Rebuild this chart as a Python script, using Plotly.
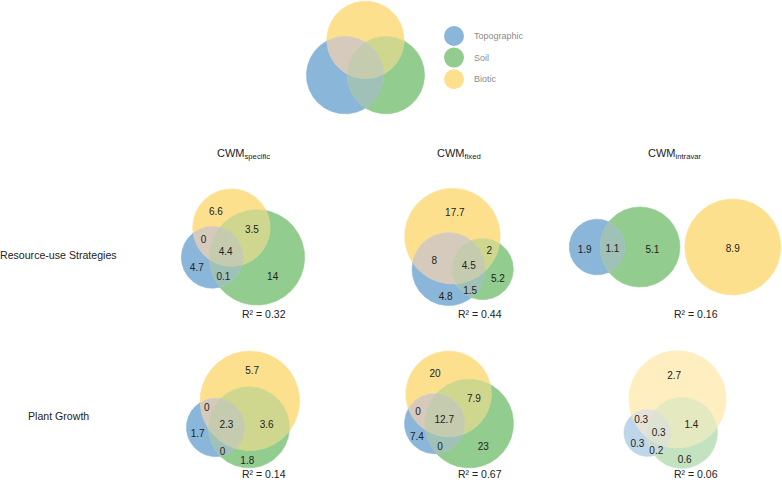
import numpy as np
import plotly.graph_objects as go

# ---------------- data ----------------
SET_NAMES = ["Topographic", "Soil", "Biotic"]
ROW_LABELS = ["Resource-use Strategies", "Plant Growth"]
COL_LABELS = ["specific", "fixed", "intravar"]

# subset order: Topo only, Soil only, Topo&Soil, Biotic only, Topo&Biotic, Soil&Biotic, all three
RES_SPECIFIC = [4.7, 14, 0.1, 6.6, 0, 3.5, 4.4]
RES_FIXED = [4.8, 5.2, 1.5, 17.7, 8, 2, 4.5]
RES_INTRAVAR = [1.9, 5.1, 1.1, 8.9, 0, 0, 0]
GROW_SPECIFIC = [1.7, 1.8, 0, 5.7, 0, 3.6, 2.3]
GROW_FIXED = [7.4, 23, 0, 20, 0, 7.9, 12.7]
GROW_INTRAVAR = [0.3, 0.6, 0.2, 2.7, 0.3, 1.4, 0.3]
R2_RES = [0.32, 0.44, 0.16]
R2_GROW = [0.14, 0.67, 0.06]
KEY_SUBSETS = [1, 1, 0.4, 1, 0.4, 0.4, 0.4]   # equal-weight illustrative key

PANELS = [[RES_SPECIFIC, RES_FIXED, RES_INTRAVAR], [GROW_SPECIFIC, GROW_FIXED, GROW_INTRAVAR]]
R2 = [R2_RES, R2_GROW]

# ---------------- style ----------------
FIG_W, FIG_H = 782, 482
SET_COLORS = [(21, 109, 179), (37, 153, 29), (251, 193, 29)]
FILL_ALPHA = [[0.5, 0.5, 0.5], [0.5, 0.5, 0.28]]
COL_X = [243, 459, 675]
ROW_Y = [247, 409.5]
CELL_W, CELL_H = 235, 137
KEY_CENTER = (365.5, 57.5)
KEY_CELL = (300, 132.6)
LABEL_DROP_PX = 2.5
FONT = "Liberation Sans, Arial, sans-serif"

MASKS = [(1, 0, 0), (0, 1, 0), (1, 1, 0), (0, 0, 1), (1, 0, 1), (0, 1, 1), (1, 1, 1)]


# ---------------- colour mixing (Lab average, alpha over white) ----------------
_M = np.array([[0.4124, 0.3576, 0.1805], [0.2126, 0.7152, 0.0722], [0.0193, 0.1192, 0.9505]])
_WHITE = np.array([0.95047, 1.0, 1.08883])


def _f(t):
    return np.where(t > (6 / 29) ** 3, np.cbrt(t), t / (3 * (6 / 29) ** 2) + 4 / 29)


def _finv(t):
    return np.where(t > 6 / 29, t ** 3, 3 * (6 / 29) ** 2 * (t - 4 / 29))


def rgb_to_lab(rgb):
    c = np.array(rgb, float) / 255
    lin = np.where(c <= 0.04045, c / 12.92, ((c + 0.055) / 1.055) ** 2.4)
    fx, fy, fz = _f(_M @ lin / _WHITE)
    return np.array([116 * fy - 16, 500 * (fx - fy), 200 * (fy - fz)])


def lab_to_rgb(lab):
    L, a, b = lab
    fy = (L + 16) / 116
    xyz = np.array([_finv(fy + a / 500), _finv(fy), _finv(fy - b / 200)]) * _WHITE
    lin = np.clip(np.linalg.inv(_M) @ xyz, 0, 1)
    c = np.where(lin <= 0.0031308, 12.92 * lin, 1.055 * lin ** (1 / 2.4) - 0.055)
    return np.clip(c, 0, 1) * 255


def region_color(mask, alpha):
    labs = [rgb_to_lab(SET_COLORS[i]) for i in range(3) if mask[i]]
    rgb = lab_to_rgb(np.mean(labs, axis=0))
    out = alpha * rgb + (1 - alpha) * 255
    return "rgb(%d,%d,%d)" % tuple(np.round(out).astype(int))


# ---------------- area-proportional layout ----------------
def lens_area(r1, r2, d):
    if d >= r1 + r2:
        return 0.0
    if d <= abs(r1 - r2):
        return np.pi * min(r1, r2) ** 2
    a1 = r1 * r1 * np.arccos((d * d + r1 * r1 - r2 * r2) / (2 * d * r1))
    a2 = r2 * r2 * np.arccos((d * d + r2 * r2 - r1 * r1) / (2 * d * r2))
    a3 = 0.5 * np.sqrt(max((-d + r1 + r2) * (d + r1 - r2) * (d - r1 + r2) * (d + r1 + r2), 0))
    return a1 + a2 - a3


def find_distance(r1, r2, area):
    lo, hi = abs(r1 - r2), r1 + r2
    if area <= 1e-12:
        return hi
    if area >= np.pi * min(r1, r2) ** 2:
        return lo
    for _ in range(100):
        mid = 0.5 * (lo + hi)
        if lens_area(r1, r2, mid) > area:
            lo = mid
        else:
            hi = mid
    return 0.5 * (lo + hi)


def solve_venn3(subsets):
    a = np.array(subsets, float)
    a = a / a.sum()
    A = a[0] + a[2] + a[4] + a[6]
    B = a[1] + a[2] + a[5] + a[6]
    C = a[3] + a[4] + a[5] + a[6]
    inter = [a[2] + a[6], a[5] + a[6], a[4] + a[6]]  # AB, BC, CA
    r = np.sqrt(np.array([A, B, C]) / np.pi)
    pairs = [(0, 1), (1, 2), (2, 0)]
    d = [find_distance(r[i], r[j], inter[k]) for k, (i, j) in enumerate(pairs)]
    tol = 1e-10
    nz = sum(x > tol for x in inter)
    coords = np.zeros((3, 2))
    if nz == 3:
        for i in range(3):
            j, k = (i + 1) % 3, (i + 2) % 3
            if d[i] > d[j] + d[k]:
                lo_, hi_ = (j, k) if d[j] < d[k] else (k, j)
                d[i] = d[hi_] + d[lo_] * 0.8
        d_ab, d_bc, d_ac = d
        coords[1] = [d_ab, 0]
        cxx = (d_ac ** 2 - d_bc ** 2 + d_ab ** 2) / (2 * d_ab)
        coords[2] = [cxx, np.sqrt(max(d_ac ** 2 - cxx ** 2, 0))]
    elif nz == 2:
        for i in range(3):
            if inter[i] < tol:
                left, right, middle = i, (i + 1) % 3, (i + 2) % 3
                coords[middle][0] = d[middle]
                coords[right][0] = d[middle] + d[right]
                break
    elif nz == 1:
        for i in range(3):
            if inter[i] > tol:
                left, right, side = i, (i + 1) % 3, (i + 2) % 3
                coords[right][0] = d[left]
                coords[side][0] = d[left] + r[right] + r[side] * 1.1
                break
    else:
        coords[1][0] = r[0] + r[1] * 1.1
        coords[2][0] = coords[1][0] + r[1] + r[2] * 1.1
    w = r ** 2
    coords = coords - (w @ coords) / w.sum()
    return coords, r


# ---------------- region geometry ----------------
def circle_intersections(c1, r1, c2, r2):
    v = c2 - c1
    d = np.hypot(*v)
    if d >= r1 + r2 or d <= abs(r1 - r2) or d == 0:
        return []
    a = (r1 * r1 - r2 * r2 + d * d) / (2 * d)
    h = np.sqrt(max(r1 * r1 - a * a, 0))
    p = c1 + a * v / d
    perp = np.array([-v[1], v[0]]) / d
    return [p + h * perp, p - h * perp]


def inside(p, c, r):
    return np.hypot(*(p - c)) < r


def region_loops(C, R, mask):
    arcs = []
    for i in range(3):
        angs = []
        for j in range(3):
            if j != i:
                for p in circle_intersections(C[i], R[i], C[j], R[j]):
                    angs.append(np.arctan2(p[1] - C[i][1], p[0] - C[i][0]) % (2 * np.pi))
        angs.sort()
        if angs:
            segs = [(angs[k], angs[k + 1]) for k in range(len(angs) - 1)] + [(angs[-1], angs[0] + 2 * np.pi)]
        else:
            segs = [(0.0, 2 * np.pi)]
        for t0, t1 in segs:
            if t1 - t0 < 1e-9:
                continue
            tm = 0.5 * (t0 + t1)
            pm = C[i] + R[i] * np.array([np.cos(tm), np.sin(tm)])
            if all(inside(pm, C[j], R[j]) == bool(mask[j]) for j in range(3) if j != i):
                n = max(8, int(np.ceil((t1 - t0) / (2 * np.pi) * 720)))
                t = np.linspace(t0, t1, n + 1)
                if not mask[i]:
                    t = t[::-1]
                arcs.append(C[i] + R[i] * np.column_stack([np.cos(t), np.sin(t)]))
    loops = []
    while arcs:
        loop = arcs.pop(0)
        while arcs:
            end = loop[-1]
            dd = [np.hypot(*(a[0] - end)) for a in arcs]
            k = int(np.argmin(dd))
            if np.hypot(*(loop[0] - end)) <= dd[k]:
                break
            loop = np.vstack([loop, arcs.pop(k)[1:]])
        loops.append(loop)
    return loops


def poly_area(P):
    x, y = P[:, 0], P[:, 1]
    return abs((x * np.roll(y, -1) - np.roll(x, -1) * y).sum()) / 2


def in_region_arr(pts, C, R, mask):
    ok = np.ones(len(pts), bool)
    for j in range(3):
        ins = np.hypot(pts[:, 0] - C[j][0], pts[:, 1] - C[j][1]) < R[j]
        ok &= ins if mask[j] else ~ins
    return ok


def dist_to_edges(pts, loops):
    best = np.full(len(pts), np.inf)
    for L in loops:
        step = max(1, len(L) // 360)
        A = L[::step]
        B = np.roll(A, -1, axis=0)
        AB = B - A
        L2 = (AB ** 2).sum(1)
        L2[L2 == 0] = 1e-18
        AP = pts[:, None, :] - A[None, :, :]
        t = np.clip((AP * AB[None]).sum(2) / L2[None], 0, 1)
        proj = A[None] + t[..., None] * AB[None]
        dd = np.sqrt(((pts[:, None, :] - proj) ** 2).sum(2)).min(1)
        best = np.minimum(best, dd)
    return best


def label_point(loops, C, R, mask):
    """Pole of inaccessibility: the interior point farthest from the region's edges."""
    allp = np.vstack(loops)
    x0, y0 = allp.min(0)
    x1, y1 = allp.max(0)
    cx, cy = 0.5 * (x0 + x1), 0.5 * (y0 + y1)
    hx, hy = 0.5 * (x1 - x0), 0.5 * (y1 - y0)
    best = allp.mean(0)
    for it in range(3):
        gx = np.linspace(cx - hx, cx + hx, 41)
        gy = np.linspace(cy - hy, cy + hy, 41)
        G = np.array(np.meshgrid(gx, gy)).reshape(2, -1).T
        G = G[in_region_arr(G, C, R, mask)]
        if len(G) == 0:
            break
        dd = dist_to_edges(G, loops)
        best = G[int(np.argmax(dd))]
        cx, cy = best
        hx, hy = hx / 8, hy / 8
    return best


# ---------------- figure ----------------
fig = go.Figure()
layout_axes = {}


def place_axes(n, C, R, center, cell):
    xmin = (C[:, 0] - R).min() - 0.1
    xmax = (C[:, 0] + R).max() + 0.1
    ymin = (C[:, 1] - R).min() - 0.1
    ymax = (C[:, 1] + R).max() + 0.1
    s = min(cell[0] / (xmax - xmin), cell[1] / (ymax - ymin))
    w, h = s * (xmax - xmin), s * (ymax - ymin)
    px0, px1 = center[0] - w / 2, center[0] + w / 2
    py0, py1 = center[1] - h / 2, center[1] + h / 2
    if px0 < 0:
        xmin += -px0 / s; px0 = 0
    if px1 > FIG_W:
        xmax -= (px1 - FIG_W) / s; px1 = FIG_W
    if py0 < 0:
        ymax -= -py0 / s; py0 = 0
    if py1 > FIG_H:
        ymin += (py1 - FIG_H) / s; py1 = FIG_H
    sfx = "" if n == 1 else str(n)
    layout_axes["xaxis" + sfx] = dict(domain=[px0 / FIG_W, px1 / FIG_W], range=[xmin, xmax],
                                      visible=False, fixedrange=True, anchor="y" + sfx)
    layout_axes["yaxis" + sfx] = dict(domain=[1 - py1 / FIG_H, 1 - py0 / FIG_H], range=[ymin, ymax],
                                      visible=False, fixedrange=True, anchor="x" + sfx)
    return "x" + sfx, "y" + sfx, s


def draw_venn(n, subsets, center, cell, alpha, show_labels=True):
    C, R = solve_venn3(subsets)
    xa, ya, s = place_axes(n, C, R, center, cell)
    tx, ty, tt = [], [], []
    for idx, mask in enumerate(MASKS):
        loops = region_loops(C, R, mask)
        if not loops:
            continue
        areas = [poly_area(L) for L in loops]
        if max(areas) < 1e-9:
            continue
        col = region_color(mask, alpha)
        xs, ys = [], []
        for L in loops:
            xs += list(L[:, 0]) + [None]
            ys += list(L[:, 1]) + [None]
        fig.add_trace(go.Scatter(x=xs, y=ys, mode="lines", fill="toself", fillcolor=col,
                                 line=dict(color=col, width=0.6), hoverinfo="skip",
                                 showlegend=False, xaxis=xa, yaxis=ya))
        if show_labels:
            p = label_point(loops, C, R, mask)
            tx.append(p[0]); ty.append(p[1] - LABEL_DROP_PX / s); tt.append("%g" % subsets[idx])
    if show_labels:
        fig.add_trace(go.Scatter(x=tx, y=ty, text=tt, mode="text", textposition="middle center",
                                 textfont=dict(size=10, color="#222222", family=FONT),
                                 hoverinfo="skip", showlegend=False, cliponaxis=False,
                                 xaxis=xa, yaxis=ya))


n = 1
for ri in range(2):
    for ci in range(3):
        draw_venn(n, PANELS[ri][ci], (COL_X[ci], ROW_Y[ri]), (CELL_W, CELL_H), FILL_ALPHA[ri][ci])
        n += 1
draw_venn(n, KEY_SUBSETS, KEY_CENTER, KEY_CELL, 0.5, show_labels=False)

annotations = []


def ann(px, py, text, size, color, xanchor="center", yanchor="middle"):
    annotations.append(dict(x=px / FIG_W, y=1 - py / FIG_H, xref="paper", yref="paper", text=text,
                            showarrow=False, xanchor=xanchor, yanchor=yanchor,
                            font=dict(size=size, color=color, family=FONT)))


# key legend
KEY_X, KEY_Y0, KEY_DY, KEY_R = 454, 36, 21.6, 10
shapes = []
for i, name in enumerate(SET_NAMES):
    cy = KEY_Y0 + i * KEY_DY
    m = tuple(1 if j == i else 0 for j in range(3))
    shapes.append(dict(type="circle", xref="paper", yref="paper",
                       x0=(KEY_X - KEY_R) / FIG_W, x1=(KEY_X + KEY_R) / FIG_W,
                       y0=1 - (cy + KEY_R) / FIG_H, y1=1 - (cy - KEY_R) / FIG_H,
                       fillcolor=region_color(m, 0.5), line=dict(width=0)))
    ann(472, cy, name, 9, "#8c8c8c", xanchor="left")

for ci, lab in enumerate(COL_LABELS):
    ann(COL_X[ci], 153.5, "CWM<sub>%s</sub>" % lab, 11, "#222222")
for ri, lab in enumerate(ROW_LABELS):
    ann(59, [255, 415.5][ri], lab, 10.6, "#222222")
for ri in range(2):
    for ci in range(3):
        ann(COL_X[ci] + 21, min(ROW_Y[ri] + CELL_H / 2 + 6.5, FIG_H), "R² = %.2f" % R2[ri][ci],
            10.5, "#222222", yanchor="bottom")

fig.update_layout(width=FIG_W, height=FIG_H, autosize=False, margin=dict(l=0, r=0, t=0, b=0),
                  paper_bgcolor="white", plot_bgcolor="rgba(0,0,0,0)", showlegend=False,
                  annotations=annotations, shapes=shapes, **layout_axes)
fig.write_html("out.html")
